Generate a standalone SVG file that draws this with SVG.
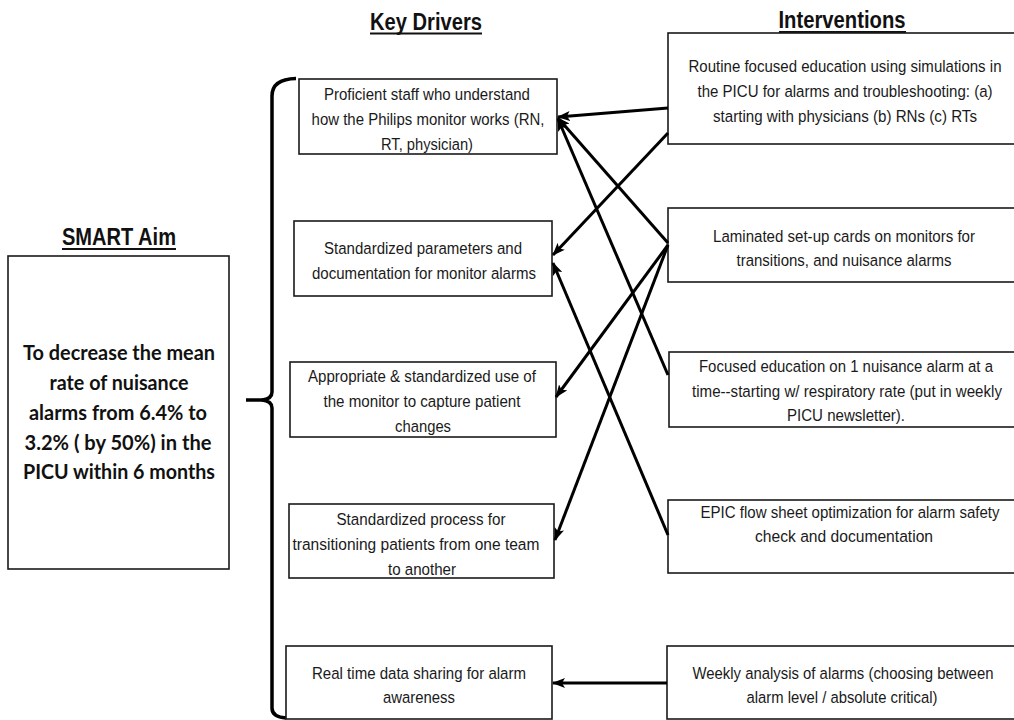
<svg xmlns="http://www.w3.org/2000/svg" width="1014" height="720" viewBox="0 0 1014 720">
<style>
.box{fill:#fff;stroke:#1a1a1a;stroke-width:1.6}
.t{font-family:"Liberation Sans",Arial,sans-serif;font-size:17px;fill:#1a1a1a;text-anchor:middle}
.h{font-family:"Liberation Sans",Arial,sans-serif;font-size:23px;font-weight:bold;fill:#111;text-anchor:middle}
.aim{font-family:Lato,"Open Sans",sans-serif;font-size:20px;font-weight:bold;fill:#111;text-anchor:middle}
.ul{stroke:#111;stroke-width:2}
.c{stroke:#000;stroke-width:3;fill:none;marker-end:url(#ah)}
</style>
<defs>
<marker id="ah" markerUnits="userSpaceOnUse" markerWidth="13" markerHeight="10" refX="12" refY="5" orient="auto">
<path d="M0,0 L13,5 L0,10 L3,5 z" fill="#000"/>
</marker>
</defs>
<rect width="1014" height="720" fill="#fff"/>

<g id="headers">
<text class="h" x="426" y="30" textLength="112" lengthAdjust="spacingAndGlyphs">Key Drivers</text>
<line class="ul" x1="370" y1="33.5" x2="482" y2="33.5"/>
<text class="h" x="842" y="28" textLength="127" lengthAdjust="spacingAndGlyphs">Interventions</text>
<line class="ul" x1="779" y1="32" x2="906" y2="32"/>
<text class="h" x="119" y="245" textLength="114" lengthAdjust="spacingAndGlyphs">SMART Aim</text>
<line class="ul" x1="62" y1="249" x2="176" y2="249"/>
</g>

<g id="aim">
<rect class="box" x="8" y="256" width="221" height="313"/>
<text class="aim" x="119" y="360" textLength="192" lengthAdjust="spacingAndGlyphs">To decrease the mean</text>
<text class="aim" x="119" y="390" textLength="139" lengthAdjust="spacingAndGlyphs">rate of nuisance</text>
<text class="aim" x="118" y="420" textLength="178" lengthAdjust="spacingAndGlyphs">alarms from 6.4% to</text>
<text class="aim" x="118" y="450" textLength="187" lengthAdjust="spacingAndGlyphs">3.2% ( by 50%) in the</text>
<text class="aim" x="119" y="479" textLength="192" lengthAdjust="spacingAndGlyphs">PICU within 6 months</text>
</g>

<g id="brace">
<path d="M296,78.5 Q272,79 272,96 L272,392 Q272,399 262,400 Q272,401 272,408 L272,708 Q272,717 286,718" fill="none" stroke="#000" stroke-width="3.5"/>
<line x1="246" y1="400" x2="265" y2="400" stroke="#000" stroke-width="3.5"/>
</g>

<g id="kd1">
<rect class="box" x="299" y="79" width="258" height="75"/>
<g transform="scale(0.82,1)">
<text class="t" x="520.7" y="100" textLength="251.2" lengthAdjust="spacingAndGlyphs">Proficient staff who understand</text>
<text class="t" x="522" y="125" textLength="284.1" lengthAdjust="spacingAndGlyphs">how the Philips monitor works (RN,</text>
<text class="t" x="520.7" y="150" textLength="112.2" lengthAdjust="spacingAndGlyphs">RT, physician)</text>
</g>
</g>
<g id="kd2">
<rect class="box" x="294" y="221" width="258" height="75"/>
<g transform="scale(0.82,1)">
<text class="t" x="515.9" y="254" textLength="241.5" lengthAdjust="spacingAndGlyphs">Standardized parameters and</text>
<text class="t" x="517.1" y="279" textLength="273.2" lengthAdjust="spacingAndGlyphs">documentation for monitor alarms</text>
</g>
</g>
<g id="kd3">
<rect class="box" x="290" y="362" width="266" height="75"/>
<g transform="scale(0.82,1)">
<text class="t" x="514.6" y="382" textLength="278" lengthAdjust="spacingAndGlyphs">Appropriate &amp; standardized use of</text>
<text class="t" x="514.6" y="407" textLength="240.2" lengthAdjust="spacingAndGlyphs">the monitor to capture patient</text>
<text class="t" x="515.9" y="432" textLength="68.3" lengthAdjust="spacingAndGlyphs">changes</text>
</g>
</g>
<g id="kd4">
<rect class="box" x="289" y="504" width="265" height="74"/>
<g transform="scale(0.82,1)">
<text class="t" x="513.4" y="525" textLength="206.1" lengthAdjust="spacingAndGlyphs">Standardized process for</text>
<text class="t" x="507.3" y="550" textLength="301.2" lengthAdjust="spacingAndGlyphs">transitioning patients from one team</text>
<text class="t" x="514.6" y="575" textLength="82.9" lengthAdjust="spacingAndGlyphs">to another</text>
</g>
</g>
<g id="kd5">
<rect class="box" x="286" y="646" width="266" height="73"/>
<g transform="scale(0.82,1)">
<text class="t" x="511" y="679" textLength="261" lengthAdjust="spacingAndGlyphs">Real time data sharing for alarm</text>
<text class="t" x="511" y="703" textLength="87.8" lengthAdjust="spacingAndGlyphs">awareness</text>
</g>
</g>

<g id="int1">
<rect class="box" x="668" y="33" width="350" height="111"/>
<g transform="scale(0.82,1)">
<text class="t" x="1030.5" y="72" textLength="381.7" lengthAdjust="spacingAndGlyphs">Routine focused education using simulations in</text>
<text class="t" x="1030.5" y="97" textLength="359.8" lengthAdjust="spacingAndGlyphs">the PICU for alarms and troubleshooting: (a)</text>
<text class="t" x="1030.5" y="122" textLength="322" lengthAdjust="spacingAndGlyphs">starting with physicians (b) RNs (c)  RTs</text>
</g>
</g>
<g id="int2">
<rect class="box" x="668" y="208" width="350" height="74"/>
<g transform="scale(0.82,1)">
<text class="t" x="1029.3" y="242" textLength="319.5" lengthAdjust="spacingAndGlyphs">Laminated set-up cards on monitors for</text>
<text class="t" x="1029.3" y="266" textLength="262.2" lengthAdjust="spacingAndGlyphs">transitions, and nuisance alarms</text>
</g>
</g>
<g id="int3">
<rect class="box" x="669" y="352" width="350" height="75"/>
<g transform="scale(0.82,1)">
<text class="t" x="1031.7" y="372" textLength="358.5" lengthAdjust="spacingAndGlyphs">Focused education on 1 nuisance alarm at a</text>
<text class="t" x="1032.9" y="397" textLength="378" lengthAdjust="spacingAndGlyphs">time--starting w/ respiratory rate (put in weekly</text>
<text class="t" x="1031.7" y="421" textLength="143.9" lengthAdjust="spacingAndGlyphs">PICU newsletter).</text>
</g>
</g>
<g id="int4">
<rect class="box" x="668" y="500" width="350" height="73"/>
<g transform="scale(0.82,1)">
<text class="t" x="1036.6" y="518" textLength="364.6" lengthAdjust="spacingAndGlyphs">EPIC flow sheet optimization for alarm safety</text>
<text class="t" x="1029.3" y="542" textLength="217.1" lengthAdjust="spacingAndGlyphs">check and  documentation</text>
</g>
</g>
<g id="int5">
<rect class="box" x="667" y="646" width="350" height="73"/>
<g transform="scale(0.82,1)">
<text class="t" x="1028" y="679" textLength="367.1" lengthAdjust="spacingAndGlyphs">Weekly analysis of alarms (choosing between</text>
<text class="t" x="1026.8" y="703" textLength="232.9" lengthAdjust="spacingAndGlyphs">alarm level / absolute critical)</text>
</g>
</g>

<g id="connectors">
<line class="c" x1="668" y1="108" x2="558" y2="117"/>
<line class="c" x1="668" y1="133" x2="553" y2="255"/>
<line class="c" x1="668" y1="243" x2="558" y2="118"/>
<line class="c" x1="668" y1="375" x2="558" y2="119"/>
<line class="c" x1="668" y1="245" x2="556" y2="397"/>
<line class="c" x1="668" y1="245" x2="555" y2="540"/>
<line class="c" x1="668" y1="535" x2="553" y2="263"/>
<line class="c" x1="667" y1="683" x2="553" y2="683"/>
</g>
</svg>
